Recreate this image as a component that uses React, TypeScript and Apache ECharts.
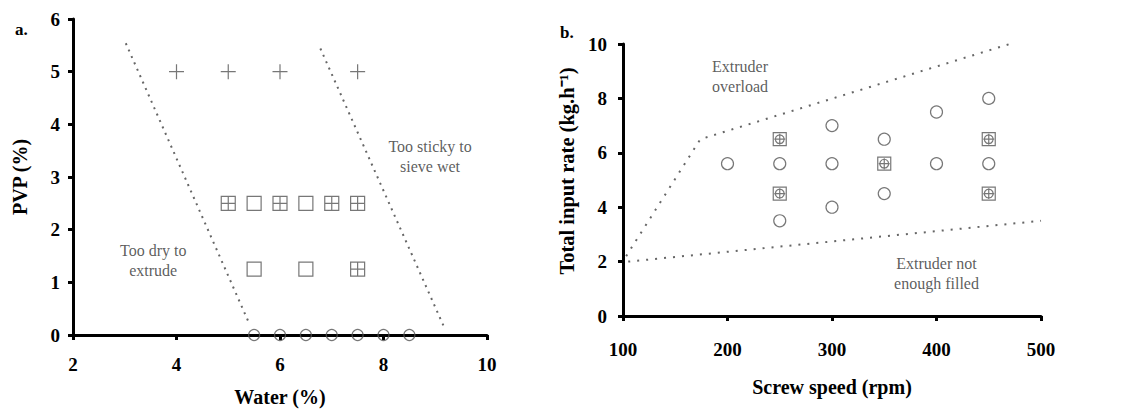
import React, { useEffect, useRef } from "react";
import * as echarts from "echarts";

// ---- Panel a: PVP (%) vs Water (%) ----
const leftPlus = [[4, 5], [5, 5], [6, 5], [7.5, 5]];
const leftSquarePlus = [[5, 2.5], [6, 2.5], [7, 2.5], [7.5, 2.5], [7.5, 1.25]];
const leftSquare = [[5.5, 2.5], [6.5, 2.5], [5.5, 1.25], [6.5, 1.25]];
const leftCircle = [[5.5, 0], [6, 0], [6.5, 0], [7, 0], [7.5, 0], [8, 0], [8.5, 0]];
const leftDryBoundary = [[3.02, 5.54], [5.4, 0.23]];
const leftStickyBoundary = [[6.78, 5.44], [9.18, 0.13]];
const leftNotes = [
  { value: [3.55, 1.42], text: "Too dry to\nextrude" },
  { value: [8.9, 3.38], text: "Too sticky to\nsieve wet" },
];

// ---- Panel b: Total input rate vs Screw speed ----
const rightCircle = [
  [200, 5.6], [250, 5.6], [250, 3.5], [300, 7], [300, 5.6], [300, 4],
  [350, 6.5], [350, 4.5], [400, 7.5], [400, 5.6], [450, 8], [450, 5.6],
];
const rightBoxed = [[250, 6.5], [250, 4.5], [350, 5.6], [450, 6.5], [450, 4.5]];
const rightUpperBoundary = [[103, 2.2], [174, 6.5], [470, 10]];
const rightLowerBoundary = [[105, 2], [500, 3.5]];
const rightNotes = [
  { value: [212, 8.8], text: "Extruder\noverload" },
  { value: [400, 1.56], text: "Extruder not\nenough filled" },
];

const FONT = "'Liberation Serif', 'Times New Roman', serif";
const MARK = "#555";

const PLUS = "path://M5,0V10M0,5H10";
const SQUARE = "path://M0,0H10V10H0Z";
const SQUARE_PLUS = "path://M0,0H10V10H0Z M5,0V10 M0,5H10";
const BOXED = "path://M0,0H10V10H0Z M5,1.6A3.4,3.4,0,1,1,4.99,1.6Z M5,0.8V9.2 M0.8,5H9.2";

function axis(extra: any) {
  return {
    splitLine: { show: false },
    axisLine: { show: true, onZero: false, lineStyle: { color: "#000", width: 3 } },
    axisTick: { show: true, length: 5, lineStyle: { color: "#000", width: 3 } },
    axisLabel: { color: "#000", fontFamily: FONT, fontWeight: "bold", fontSize: 19 },
    nameTextStyle: { color: "#000", fontFamily: FONT, fontWeight: "bold", fontSize: 20 },
    nameLocation: "middle",
    ...extra,
  };
}

function scatter(data: number[][], symbol: string, size: number, xi: number) {
  return {
    type: "scatter",
    xAxisIndex: xi,
    yAxisIndex: xi,
    data,
    symbol,
    symbolSize: size,
    itemStyle: { color: "transparent", borderColor: MARK, borderWidth: 1.2 },
    z: 5,
  };
}

function boundary(data: number[][], xi: number, dash: number[]) {
  return {
    type: "line",
    xAxisIndex: xi,
    yAxisIndex: xi,
    data,
    symbol: "none",
    lineStyle: { color: "#666", width: 2, type: dash },
    z: 3,
  };
}

function notes(data: any[], xi: number) {
  return {
    type: "scatter",
    xAxisIndex: xi,
    yAxisIndex: xi,
    data: data.map((d) => ({ value: d.value, name: d.text })),
    symbolSize: 0,
    label: {
      show: true,
      position: "inside",
      formatter: (p: any) => p.name,
      color: "#333",
      fontFamily: FONT,
      fontSize: 16,
      lineHeight: 20,
      align: "center",
    },
    z: 6,
  };
}

export default function App() {
  const ref = useRef<HTMLDivElement>(null);
  useEffect(() => {
    if (!ref.current) return;
    const chart = echarts.init(ref.current, null, { renderer: "svg" });
    chart.setOption({
      animation: false,
      backgroundColor: "#fff",
      grid: [
        { left: 73, top: 19, width: 414, height: 316 },
        { left: 623, top: 44, width: 418, height: 272 },
      ],
      xAxis: [
        axis({
          gridIndex: 0, type: "value", min: 2, max: 10, interval: 2,
          name: "Water (%)", nameGap: 52,
          axisLabel: { color: "#000", fontFamily: FONT, fontWeight: "bold", fontSize: 19, margin: 20 },
        }),
        axis({
          gridIndex: 1, type: "value", min: 100, max: 500, interval: 100,
          name: "Screw speed (rpm)", nameGap: 61,
          axisLabel: { color: "#000", fontFamily: FONT, fontWeight: "bold", fontSize: 19, margin: 24 },
        }),
      ],
      yAxis: [
        axis({
          gridIndex: 0, type: "value", min: 0, max: 6, interval: 1,
          name: "PVP (%)", nameGap: 43,
          axisLabel: { color: "#000", fontFamily: FONT, fontWeight: "bold", fontSize: 19, margin: 13 },
        }),
        axis({
          gridIndex: 1, type: "value", min: 0, max: 10, interval: 2,
          axisLabel: { color: "#000", fontFamily: FONT, fontWeight: "bold", fontSize: 19, margin: 16 },
        }),
      ],
      graphic: [
        { type: "text", left: 15, top: 21, style: { text: "a.", font: `bold 17px ${FONT}`, fill: "#000" } },
        { type: "text", left: 560, top: 24, style: { text: "b.", font: `bold 17px ${FONT}`, fill: "#000" } },
        {
          type: "text", x: 567, y: 171, rotation: Math.PI / 2,
          style: {
            text: "Total input rate (kg.h⁻¹)", font: `bold 20.5px ${FONT}`, fill: "#000",
            align: "center", verticalAlign: "middle",
          },
        },
      ],
      series: [
        boundary(leftDryBoundary, 0, [2, 5]),
        boundary(leftStickyBoundary, 0, [2, 5]),
        scatter(leftPlus, PLUS, 15, 0),
        scatter(leftSquarePlus, SQUARE_PLUS, 14, 0),
        scatter(leftSquare, SQUARE, 14, 0),
        scatter(leftCircle, "circle", 11, 0),
        notes(leftNotes, 0),
        boundary(rightUpperBoundary, 1, [2, 7]),
        boundary(rightLowerBoundary, 1, [2, 7]),
        scatter(rightCircle, "circle", 12, 1),
        scatter(rightBoxed, BOXED, 13, 1),
        notes(rightNotes, 1),
      ],
    });
    return () => chart.dispose();
  }, []);
  return (
    <div
      ref={ref}
      style={{ position: "fixed", left: 0, top: 0, width: 1122, height: 412, background: "#fff" }}
    />
  );
}
